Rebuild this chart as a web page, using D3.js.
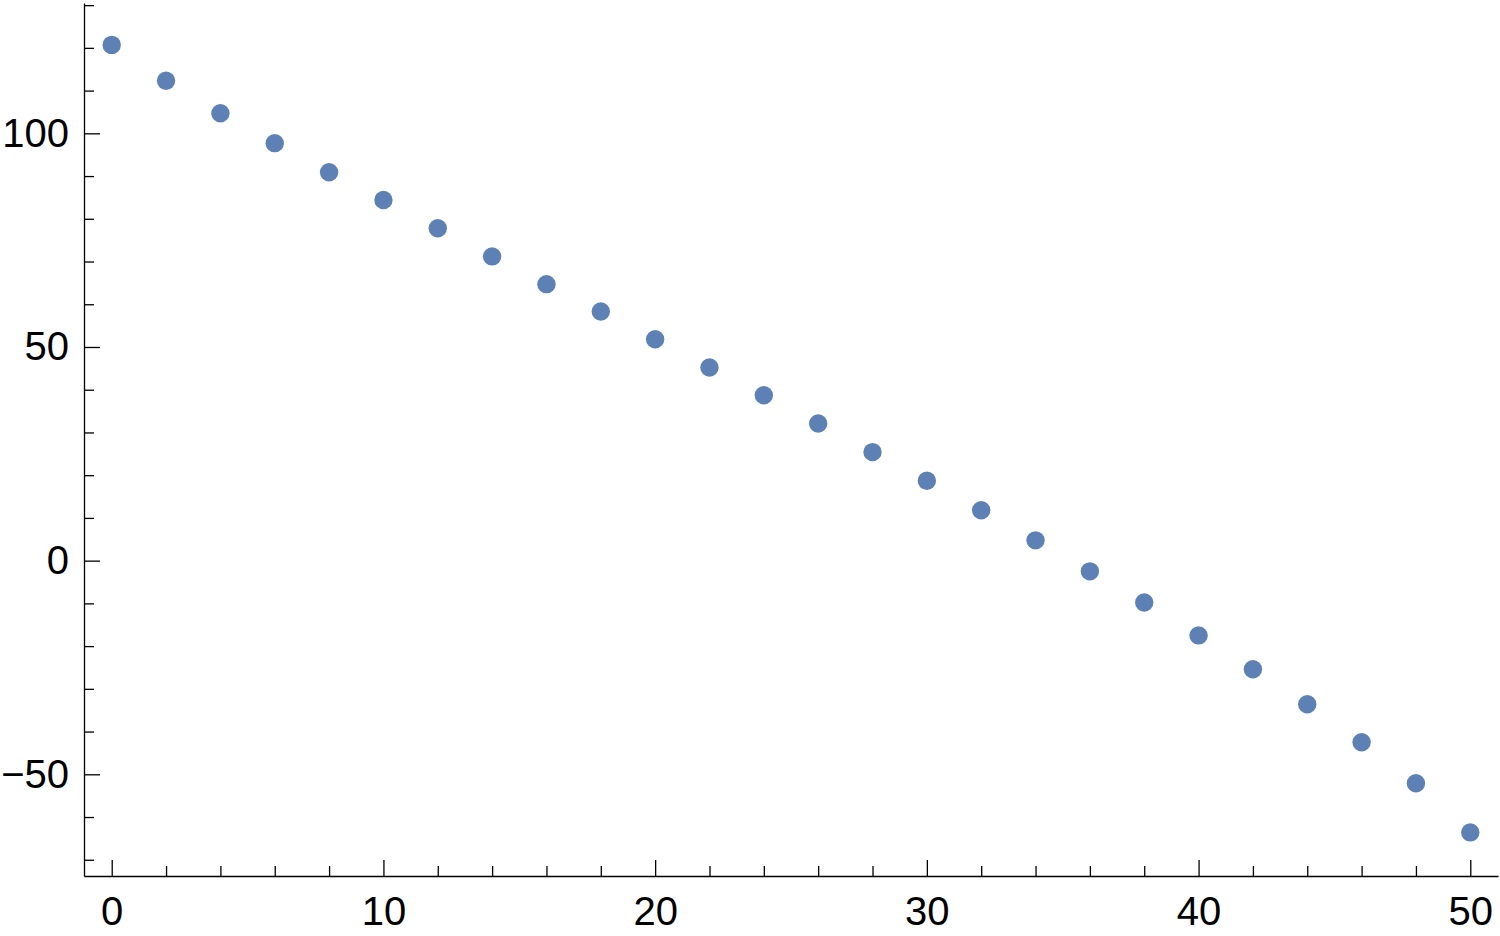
<!DOCTYPE html>
<html>
<head>
<meta charset="utf-8">
<script src="https://cdn.jsdelivr.net/npm/d3@7"></script>
<style>
  html, body { margin: 0; padding: 0; background: #fff; }
  svg { display: block; }
  .axis text { font-family: "Liberation Sans", Arial, sans-serif; font-size: 40px; fill: #000; }
  .axis path, .axis line { stroke: #000; stroke-width: 1.3px; }
</style>
</head>
<body>
<svg id="chart" width="1500" height="936"></svg>
<script>
// Data
const xValues = [0, 2, 4, 6, 8, 10, 12, 14, 16, 18, 20, 22, 24, 26, 28, 30, 32, 34, 36, 38, 40, 42, 44, 46, 48, 50];
const yValues = [120.7, 112.3, 104.7, 97.7, 90.9, 84.4, 77.8, 71.2, 64.7, 58.3, 51.8, 45.2, 38.7, 32.1, 25.4, 18.7, 11.8, 4.75, -2.5, -9.8, -17.5, -25.4, -33.6, -42.5, -52.1, -63.6];
const xMajorTicks = [0, 10, 20, 30, 40, 50];
const xMinorTicks = d3.range(0, 51, 2).filter(v => v % 10 !== 0);
const yMajorTicks = [-50, 0, 50, 100];
const yMinorTicks = d3.range(-70, 131, 10).filter(v => v % 50 !== 0);
const xDomain = [-1.02, 51.02];
const yDomain = [-73.8, 130.5];

const svg = d3.select("#chart");
const plotLeft = 84, plotRight = 1498, plotTop = 3, plotBottom = 876;

const x = d3.scaleLinear().domain(xDomain).range([plotLeft, plotRight]);
const y = d3.scaleLinear().domain(yDomain).range([plotBottom, plotTop]);

// Y axis
svg.append("g").attr("class", "axis").attr("transform", `translate(${plotLeft},0)`)
  .call(d3.axisLeft(y).tickValues(yMajorTicks).tickSizeInner(-16).tickSizeOuter(0).tickPadding(15)
    .tickFormat(d => d < 0 ? "\u2212" + Math.abs(d) : d));
svg.append("g").attr("class", "axis").attr("transform", `translate(${plotLeft},0)`)
  .call(d3.axisLeft(y).tickValues(yMinorTicks).tickSizeInner(-10).tickSizeOuter(0).tickFormat(""))
  .select(".domain").remove();

// X axis
svg.append("g").attr("class", "axis").attr("transform", `translate(0,${plotBottom})`)
  .call(d3.axisBottom(x).tickValues(xMajorTicks).tickSizeInner(-16).tickSizeOuter(0).tickPadding(21));
svg.append("g").attr("class", "axis").attr("transform", `translate(0,${plotBottom})`)
  .call(d3.axisBottom(x).tickValues(xMinorTicks).tickSizeInner(-10).tickSizeOuter(0).tickFormat(""))
  .select(".domain").remove();

// Points
const data = xValues.map((v, i) => ({ x: v, y: yValues[i] }));
svg.append("g").selectAll("circle").data(data).join("circle")
  .attr("cx", d => x(d.x))
  .attr("cy", d => y(d.y))
  .attr("r", 9.2)
  .attr("fill", "#5e81b5");
</script>
</body>
</html>
